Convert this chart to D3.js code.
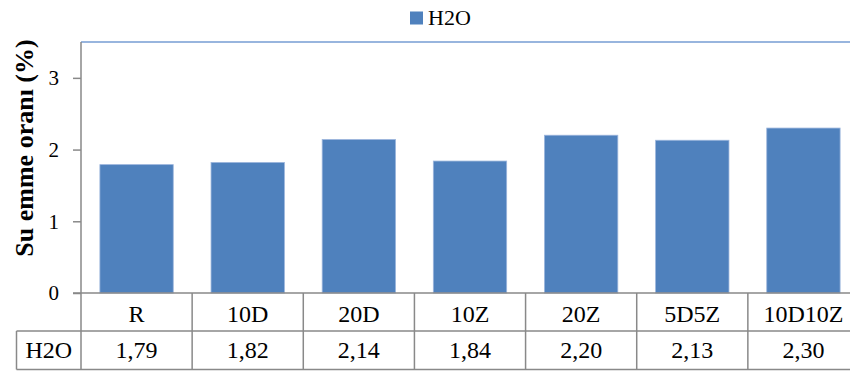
<!DOCTYPE html>
<html>
<head>
<meta charset="utf-8">
<script src="https://cdn.jsdelivr.net/npm/d3@7"></script>
<style>
  html, body { margin: 0; padding: 0; background: #fff; }
</style>
</head>
<body>
<svg id="chart" width="850" height="374"></svg>
<script>
// Water absorption ratio per mix
const categories = ["R", "10D", "20D", "10Z", "20Z", "5D5Z", "10D10Z"];
const seriesName = "H2O";
const h2oValues = [1.79, 1.82, 2.14, 1.84, 2.20, 2.13, 2.30];
const yTicks = [0, 1, 2, 3];
const yTitle = "Su emme oranı (%)";

const FONT = '"Liberation Serif"';
const svg = d3.select("#chart");
const W = 850, H = 374;

const plot = { left: 81, right: 859, top: 42, bottom: 293 };
const rowH = [38, 38.5];
const labelCellLeft = 16.5;

const x = d3.scaleBand()
  .domain(categories)
  .range([plot.left, plot.right])
  .paddingInner(0.34)
  .paddingOuter(0.17);

const y = d3.scaleLinear()
  .domain([0, 3.5])
  .range([plot.bottom, plot.top]);

const barColor = "#4f81bd";
const gridGray = "#898989";

// plot area top border
svg.append("line")
  .attr("x1", plot.left).attr("x2", W)
  .attr("y1", plot.top).attr("y2", plot.top)
  .attr("stroke", "#98b5de").attr("stroke-width", 2);

// bars
svg.append("g")
  .selectAll("rect")
  .data(h2oValues)
  .join("rect")
  .attr("x", (d, i) => x(categories[i]))
  .attr("y", d => y(d))
  .attr("width", x.bandwidth())
  .attr("height", d => y(0) - y(d))
  .attr("fill", barColor)
  .attr("stroke", "#9bb5dc")
  .attr("stroke-width", 0.8);

// y axis
const yAxis = d3.axisLeft(y)
  .tickValues(yTicks)
  .tickFormat(d3.format("d"))
  .tickSize(8)
  .tickPadding(14);

const gy = svg.append("g")
  .attr("transform", `translate(${plot.left},0)`)
  .call(yAxis);
gy.attr("font-family", FONT).attr("font-size", 21);
gy.select(".domain").attr("stroke", gridGray).attr("stroke-width", 1.5)
  .attr("d", `M0,${plot.top}V${plot.bottom}`);
gy.selectAll(".tick line").attr("stroke", gridGray).attr("stroke-width", 1.5);
gy.selectAll(".tick text")
  .style("font-family", FONT)
  .attr("fill", "#000");

// y title
svg.append("text")
  .attr("transform", `translate(33,148) rotate(-90)`)
  .attr("text-anchor", "middle")
  .style("font-family", FONT)
  .attr("font-weight", "bold")
  .attr("font-size", 26)
  .text(yTitle);

// legend
const legend = svg.append("g");
legend.append("rect")
  .attr("x", 410).attr("y", 11.5)
  .attr("width", 13).attr("height", 13)
  .attr("fill", barColor);
legend.append("text")
  .attr("x", 428).attr("y", 25)
  .style("font-family", FONT)
  .attr("font-size", 22)
  .text(seriesName);

// data table beneath the axis
const step = x.step();
const bandLeft = i => plot.left + i * step;
const row1Top = plot.bottom, row1Bot = row1Top + rowH[0], row2Bot = row1Bot + rowH[1];
const table = svg.append("g").attr("stroke", gridGray).attr("stroke-width", 1.5);

// horizontal rules
table.append("line").attr("x1", plot.left - 8).attr("x2", W).attr("y1", row1Top).attr("y2", row1Top);
table.append("line").attr("x1", labelCellLeft).attr("x2", W).attr("y1", row1Bot).attr("y2", row1Bot);
table.append("line").attr("x1", labelCellLeft).attr("x2", W).attr("y1", row2Bot).attr("y2", row2Bot);
// vertical rules
table.append("line").attr("x1", labelCellLeft).attr("x2", labelCellLeft).attr("y1", row1Bot).attr("y2", row2Bot);
table.selectAll("line.v")
  .data(d3.range(categories.length + 1))
  .join("line")
  .attr("class", "v")
  .attr("x1", i => bandLeft(i)).attr("x2", i => bandLeft(i))
  .attr("y1", row1Top).attr("y2", row2Bot);

const fmt = v => d3.format(".2f")(v).replace(".", ",");

svg.append("g")
  .selectAll("text")
  .data(categories)
  .join("text")
  .attr("x", d => x(d) + x.bandwidth() / 2)
  .attr("y", row1Top + 29)
  .attr("text-anchor", "middle")
  .style("font-family", FONT)
  .attr("font-size", 24)
  .text(d => d);

svg.append("text")
  .attr("x", (labelCellLeft + plot.left) / 2)
  .attr("y", row1Bot + 27)
  .attr("text-anchor", "middle")
  .style("font-family", FONT)
  .attr("font-size", 24)
  .text(seriesName);

svg.append("g")
  .selectAll("text")
  .data(h2oValues)
  .join("text")
  .attr("x", (d, i) => x(categories[i]) + x.bandwidth() / 2)
  .attr("y", row1Bot + 27)
  .attr("text-anchor", "middle")
  .style("font-family", FONT)
  .attr("font-size", 24)
  .text(d => fmt(d));
</script>
</body>
</html>
